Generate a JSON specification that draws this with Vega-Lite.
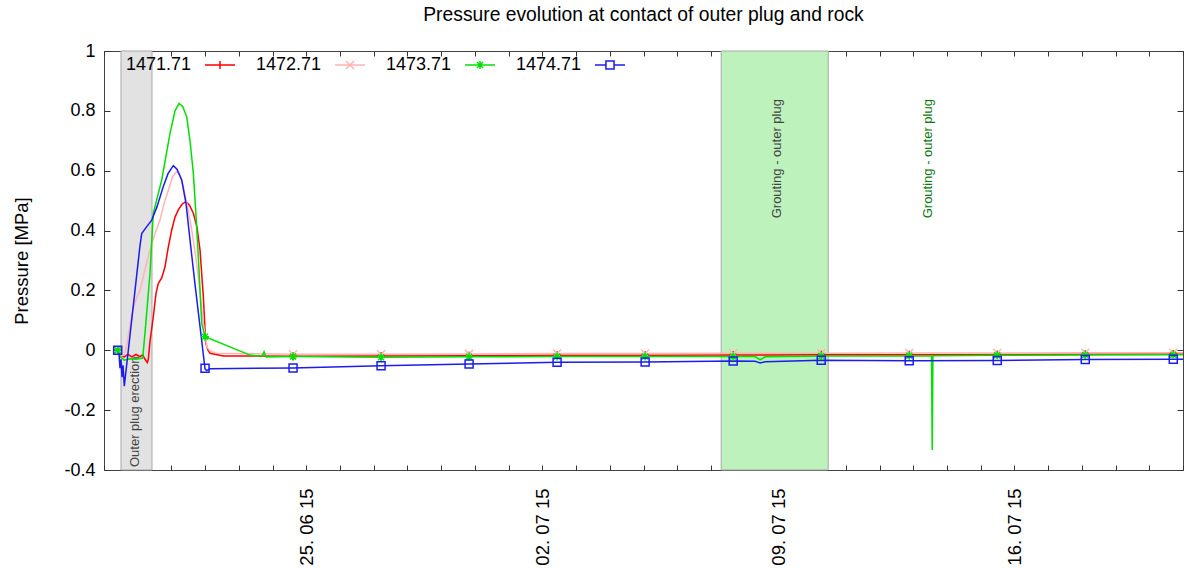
{
"$schema":"https://vega.github.io/schema/vega-lite/v6.json",
"width":1079,"height":419,
"autosize":{"type":"none"},
"padding":{"left":104,"top":51,"right":1,"bottom":99},
"background":"white",
"config":{"font":"Liberation Sans","view":{"stroke":"#444","strokeWidth":1}},
"title":{"text":"Pressure evolution at contact of outer plug and rock","font":"Liberation Sans","fontSize":19.3,"fontWeight":"normal","color":"#000","frame":"group","anchor":"middle","offset":17},
"datasets":{
"bands":[
{"kind":"erection","start":"2015-06-19T12:06Z","end":"2015-06-20T10:10Z"},
{"kind":"grouting","start":"2015-07-07T07:18Z","end":"2015-07-10T11:28Z"}
],
"notes":[
{"kind":"band","text":"Outer plug erection","time":"2015-06-19T22:04Z","pressure":-0.39},
{"kind":"band","text":"Grouting - outer plug","time":"2015-07-08T23:10Z","pressure":0.441},
{"kind":"outside","text":"Grouting - outer plug","time":"2015-07-13T10:40Z","pressure":0.441}
],
"series":[
{"sensor":"1471.71","time":"2015-06-19T09:45Z","pressure":0},
{"sensor":"1471.71","time":"2015-06-19T12:06Z","pressure":-0.018},
{"sensor":"1471.71","time":"2015-06-19T14:27Z","pressure":-0.022},
{"sensor":"1471.71","time":"2015-06-19T17:00Z","pressure":-0.014},
{"sensor":"1471.71","time":"2015-06-19T19:45Z","pressure":-0.022},
{"sensor":"1471.71","time":"2015-06-19T22:47Z","pressure":-0.014},
{"sensor":"1471.71","time":"2015-06-20T01:38Z","pressure":-0.021},
{"sensor":"1471.71","time":"2015-06-20T03:33Z","pressure":-0.015},
{"sensor":"1471.71","time":"2015-06-20T05:11Z","pressure":-0.03},
{"sensor":"1471.71","time":"2015-06-20T06:50Z","pressure":-0.041},
{"sensor":"1471.71","time":"2015-06-20T07:32Z","pressure":-0.03},
{"sensor":"1471.71","time":"2015-06-20T08:45Z","pressure":0.03},
{"sensor":"1471.71","time":"2015-06-20T11:06Z","pressure":0.112},
{"sensor":"1471.71","time":"2015-06-20T13:01Z","pressure":0.19},
{"sensor":"1471.71","time":"2015-06-20T14:40Z","pressure":0.224},
{"sensor":"1471.71","time":"2015-06-20T17:05Z","pressure":0.242},
{"sensor":"1471.71","time":"2015-06-20T19:26Z","pressure":0.279},
{"sensor":"1471.71","time":"2015-06-20T21:34Z","pressure":0.34},
{"sensor":"1471.71","time":"2015-06-21T00:12Z","pressure":0.402},
{"sensor":"1471.71","time":"2015-06-21T02:33Z","pressure":0.445},
{"sensor":"1471.71","time":"2015-06-21T04:54Z","pressure":0.469},
{"sensor":"1471.71","time":"2015-06-21T07:32Z","pressure":0.488},
{"sensor":"1471.71","time":"2015-06-21T10:23Z","pressure":0.497},
{"sensor":"1471.71","time":"2015-06-21T12:52Z","pressure":0.485},
{"sensor":"1471.71","time":"2015-06-21T15:35Z","pressure":0.458},
{"sensor":"1471.71","time":"2015-06-21T18:13Z","pressure":0.41},
{"sensor":"1471.71","time":"2015-06-21T20:21Z","pressure":0.335},
{"sensor":"1471.71","time":"2015-06-21T22:42Z","pressure":0.179},
{"sensor":"1471.71","time":"2015-06-22T00:24Z","pressure":0.023},
{"sensor":"1471.71","time":"2015-06-22T02:02Z","pressure":0},
{"sensor":"1471.71","time":"2015-06-22T03:28Z","pressure":-0.01},
{"sensor":"1471.71","time":"2015-06-22T12:56Z","pressure":-0.019},
{"sensor":"1471.71","time":"2015-06-24T14:34Z","pressure":-0.02},
{"sensor":"1471.71","time":"2015-06-27T05:13Z","pressure":-0.019},
{"sensor":"1471.71","time":"2015-06-29T19:52Z","pressure":-0.018},
{"sensor":"1471.71","time":"2015-07-02T10:30Z","pressure":-0.017},
{"sensor":"1471.71","time":"2015-07-05T01:10Z","pressure":-0.017},
{"sensor":"1471.71","time":"2015-07-07T15:50Z","pressure":-0.016},
{"sensor":"1471.71","time":"2015-07-10T06:30Z","pressure":-0.015},
{"sensor":"1471.71","time":"2015-07-12T21:08Z","pressure":-0.015},
{"sensor":"1471.71","time":"2015-07-15T11:47Z","pressure":-0.014},
{"sensor":"1471.71","time":"2015-07-18T02:26Z","pressure":-0.013},
{"sensor":"1471.71","time":"2015-07-20T17:05Z","pressure":-0.012},
{"sensor":"1471.71","time":"2015-07-21T00:00Z","pressure":-0.012},
{"sensor":"1472.71","time":"2015-06-19T09:45Z","pressure":0},
{"sensor":"1472.71","time":"2015-06-19T12:06Z","pressure":-0.02},
{"sensor":"1472.71","time":"2015-06-19T14:27Z","pressure":-0.015},
{"sensor":"1472.71","time":"2015-06-19T16:23Z","pressure":0.02},
{"sensor":"1472.71","time":"2015-06-19T19:43Z","pressure":0.12},
{"sensor":"1472.71","time":"2015-06-19T22:47Z","pressure":0.17},
{"sensor":"1472.71","time":"2015-06-20T01:38Z","pressure":0.2},
{"sensor":"1472.71","time":"2015-06-20T05:11Z","pressure":0.27},
{"sensor":"1472.71","time":"2015-06-20T08:45Z","pressure":0.335},
{"sensor":"1472.71","time":"2015-06-20T12:19Z","pressure":0.39},
{"sensor":"1472.71","time":"2015-06-20T15:52Z","pressure":0.435},
{"sensor":"1472.71","time":"2015-06-20T18:43Z","pressure":0.49},
{"sensor":"1472.71","time":"2015-06-20T21:47Z","pressure":0.535},
{"sensor":"1472.71","time":"2015-06-21T00:46Z","pressure":0.58},
{"sensor":"1472.71","time":"2015-06-21T03:46Z","pressure":0.597},
{"sensor":"1472.71","time":"2015-06-21T06:06Z","pressure":0.585},
{"sensor":"1472.71","time":"2015-06-21T08:28Z","pressure":0.547},
{"sensor":"1472.71","time":"2015-06-21T11:27Z","pressure":0.48},
{"sensor":"1472.71","time":"2015-06-21T14:26Z","pressure":0.402},
{"sensor":"1472.71","time":"2015-06-21T16:47Z","pressure":0.33},
{"sensor":"1472.71","time":"2015-06-21T19:08Z","pressure":0.246},
{"sensor":"1472.71","time":"2015-06-21T21:04Z","pressure":0.16},
{"sensor":"1472.71","time":"2015-06-21T22:42Z","pressure":0.09},
{"sensor":"1472.71","time":"2015-06-22T01:07Z","pressure":0.012},
{"sensor":"1472.71","time":"2015-06-22T03:28Z","pressure":-0.003},
{"sensor":"1472.71","time":"2015-06-22T08:14Z","pressure":-0.01},
{"sensor":"1472.71","time":"2015-06-24T14:34Z","pressure":-0.013},
{"sensor":"1472.71","time":"2015-06-27T05:13Z","pressure":-0.013},
{"sensor":"1472.71","time":"2015-06-29T19:52Z","pressure":-0.012},
{"sensor":"1472.71","time":"2015-07-02T10:30Z","pressure":-0.011},
{"sensor":"1472.71","time":"2015-07-05T01:10Z","pressure":-0.011},
{"sensor":"1472.71","time":"2015-07-07T15:50Z","pressure":-0.01},
{"sensor":"1472.71","time":"2015-07-10T06:30Z","pressure":-0.01},
{"sensor":"1472.71","time":"2015-07-12T21:08Z","pressure":-0.009},
{"sensor":"1472.71","time":"2015-07-15T11:47Z","pressure":-0.009},
{"sensor":"1472.71","time":"2015-07-18T02:26Z","pressure":-0.008},
{"sensor":"1472.71","time":"2015-07-20T17:05Z","pressure":-0.008},
{"sensor":"1472.71","time":"2015-07-21T00:00Z","pressure":-0.008},
{"sensor":"1473.71","time":"2015-06-19T09:45Z","pressure":0},
{"sensor":"1473.71","time":"2015-06-19T11:23Z","pressure":-0.02},
{"sensor":"1473.71","time":"2015-06-19T14:27Z","pressure":-0.033},
{"sensor":"1473.71","time":"2015-06-19T18:30Z","pressure":-0.028},
{"sensor":"1473.71","time":"2015-06-19T22:47Z","pressure":-0.03},
{"sensor":"1473.71","time":"2015-06-20T03:33Z","pressure":-0.026},
{"sensor":"1473.71","time":"2015-06-20T05:11Z","pressure":0.058},
{"sensor":"1473.71","time":"2015-06-20T08:45Z","pressure":0.258},
{"sensor":"1473.71","time":"2015-06-20T11:06Z","pressure":0.458},
{"sensor":"1473.71","time":"2015-06-20T17:05Z","pressure":0.569},
{"sensor":"1473.71","time":"2015-06-20T22:59Z","pressure":0.725},
{"sensor":"1473.71","time":"2015-06-21T02:33Z","pressure":0.8},
{"sensor":"1473.71","time":"2015-06-21T05:24Z","pressure":0.825},
{"sensor":"1473.71","time":"2015-06-21T08:00Z","pressure":0.815},
{"sensor":"1473.71","time":"2015-06-21T10:53Z","pressure":0.78},
{"sensor":"1473.71","time":"2015-06-21T13:13Z","pressure":0.7},
{"sensor":"1473.71","time":"2015-06-21T15:35Z","pressure":0.592},
{"sensor":"1473.71","time":"2015-06-21T17:30Z","pressure":0.45},
{"sensor":"1473.71","time":"2015-06-21T19:08Z","pressure":0.313},
{"sensor":"1473.71","time":"2015-06-21T21:33Z","pressure":0.09},
{"sensor":"1473.71","time":"2015-06-21T23:55Z","pressure":0.045},
{"sensor":"1473.71","time":"2015-06-23T07:57Z","pressure":-0.016},
{"sensor":"1473.71","time":"2015-06-23T16:30Z","pressure":-0.02},
{"sensor":"1473.71","time":"2015-06-23T17:55Z","pressure":-0.005},
{"sensor":"1473.71","time":"2015-06-23T19:20Z","pressure":-0.022},
{"sensor":"1473.71","time":"2015-06-24T14:34Z","pressure":-0.021},
{"sensor":"1473.71","time":"2015-06-27T05:13Z","pressure":-0.023},
{"sensor":"1473.71","time":"2015-06-29T19:52Z","pressure":-0.022},
{"sensor":"1473.71","time":"2015-07-02T10:30Z","pressure":-0.021},
{"sensor":"1473.71","time":"2015-07-05T01:10Z","pressure":-0.021},
{"sensor":"1473.71","time":"2015-07-07T15:50Z","pressure":-0.021},
{"sensor":"1473.71","time":"2015-07-08T07:30Z","pressure":-0.021},
{"sensor":"1473.71","time":"2015-07-08T11:00Z","pressure":-0.032},
{"sensor":"1473.71","time":"2015-07-08T14:36Z","pressure":-0.022},
{"sensor":"1473.71","time":"2015-07-10T06:30Z","pressure":-0.019},
{"sensor":"1473.71","time":"2015-07-13T13:00Z","pressure":-0.018},
{"sensor":"1473.71","time":"2015-07-13T13:30Z","pressure":-0.333},
{"sensor":"1473.71","time":"2015-07-13T14:00Z","pressure":-0.018},
{"sensor":"1473.71","time":"2015-07-15T11:47Z","pressure":-0.017},
{"sensor":"1473.71","time":"2015-07-18T02:26Z","pressure":-0.016},
{"sensor":"1473.71","time":"2015-07-20T17:05Z","pressure":-0.015},
{"sensor":"1473.71","time":"2015-07-21T00:00Z","pressure":-0.015},
{"sensor":"1474.71","time":"2015-06-19T09:45Z","pressure":0},
{"sensor":"1474.71","time":"2015-06-19T10:40Z","pressure":-0.01},
{"sensor":"1474.71","time":"2015-06-19T11:23Z","pressure":-0.06},
{"sensor":"1474.71","time":"2015-06-19T12:06Z","pressure":-0.03},
{"sensor":"1474.71","time":"2015-06-19T12:49Z","pressure":-0.09},
{"sensor":"1474.71","time":"2015-06-19T13:32Z","pressure":-0.05},
{"sensor":"1474.71","time":"2015-06-19T14:27Z","pressure":-0.12},
{"sensor":"1474.71","time":"2015-06-19T18:30Z","pressure":0.05},
{"sensor":"1474.71","time":"2015-06-19T22:47Z","pressure":0.23},
{"sensor":"1474.71","time":"2015-06-20T01:38Z","pressure":0.35},
{"sensor":"1474.71","time":"2015-06-20T02:50Z","pressure":0.39},
{"sensor":"1474.71","time":"2015-06-20T05:54Z","pressure":0.41},
{"sensor":"1474.71","time":"2015-06-20T09:58Z","pressure":0.435},
{"sensor":"1474.71","time":"2015-06-20T13:44Z","pressure":0.48},
{"sensor":"1474.71","time":"2015-06-20T18:13Z","pressure":0.547},
{"sensor":"1474.71","time":"2015-06-20T21:34Z","pressure":0.59},
{"sensor":"1474.71","time":"2015-06-21T01:20Z","pressure":0.617},
{"sensor":"1474.71","time":"2015-06-21T03:58Z","pressure":0.605},
{"sensor":"1474.71","time":"2015-06-21T07:19Z","pressure":0.569},
{"sensor":"1474.71","time":"2015-06-21T10:23Z","pressure":0.49},
{"sensor":"1474.71","time":"2015-06-21T13:13Z","pressure":0.369},
{"sensor":"1474.71","time":"2015-06-21T16:47Z","pressure":0.22},
{"sensor":"1474.71","time":"2015-06-21T20:21Z","pressure":0.079},
{"sensor":"1474.71","time":"2015-06-21T23:55Z","pressure":-0.062},
{"sensor":"1474.71","time":"2015-06-22T01:00Z","pressure":-0.068},
{"sensor":"1474.71","time":"2015-06-22T03:28Z","pressure":-0.062},
{"sensor":"1474.71","time":"2015-06-24T14:34Z","pressure":-0.059},
{"sensor":"1474.71","time":"2015-06-27T05:13Z","pressure":-0.052},
{"sensor":"1474.71","time":"2015-06-29T19:52Z","pressure":-0.046},
{"sensor":"1474.71","time":"2015-07-02T10:30Z","pressure":-0.04},
{"sensor":"1474.71","time":"2015-07-05T01:10Z","pressure":-0.039},
{"sensor":"1474.71","time":"2015-07-07T15:50Z","pressure":-0.036},
{"sensor":"1474.71","time":"2015-07-08T07:30Z","pressure":-0.037},
{"sensor":"1474.71","time":"2015-07-08T11:00Z","pressure":-0.042},
{"sensor":"1474.71","time":"2015-07-08T14:36Z","pressure":-0.038},
{"sensor":"1474.71","time":"2015-07-10T06:30Z","pressure":-0.033},
{"sensor":"1474.71","time":"2015-07-12T21:08Z","pressure":-0.035},
{"sensor":"1474.71","time":"2015-07-15T11:47Z","pressure":-0.034},
{"sensor":"1474.71","time":"2015-07-18T02:26Z","pressure":-0.031},
{"sensor":"1474.71","time":"2015-07-20T17:05Z","pressure":-0.03},
{"sensor":"1474.71","time":"2015-07-21T00:00Z","pressure":-0.03}
],
"markers":[
{"sensor":"1471.71","time":"2015-06-19T09:45Z","pressure":0},
{"sensor":"1471.71","time":"2015-06-24T14:34Z","pressure":-0.02},
{"sensor":"1471.71","time":"2015-06-27T05:13Z","pressure":-0.019},
{"sensor":"1471.71","time":"2015-06-29T19:52Z","pressure":-0.018},
{"sensor":"1471.71","time":"2015-07-02T10:30Z","pressure":-0.017},
{"sensor":"1471.71","time":"2015-07-05T01:10Z","pressure":-0.017},
{"sensor":"1471.71","time":"2015-07-07T15:50Z","pressure":-0.016},
{"sensor":"1471.71","time":"2015-07-10T06:30Z","pressure":-0.015},
{"sensor":"1471.71","time":"2015-07-12T21:08Z","pressure":-0.015},
{"sensor":"1471.71","time":"2015-07-15T11:47Z","pressure":-0.014},
{"sensor":"1471.71","time":"2015-07-18T02:26Z","pressure":-0.013},
{"sensor":"1471.71","time":"2015-07-20T17:05Z","pressure":-0.012},
{"sensor":"1472.71","time":"2015-06-19T09:45Z","pressure":0},
{"sensor":"1472.71","time":"2015-06-24T14:34Z","pressure":-0.013},
{"sensor":"1472.71","time":"2015-06-27T05:13Z","pressure":-0.013},
{"sensor":"1472.71","time":"2015-06-29T19:52Z","pressure":-0.012},
{"sensor":"1472.71","time":"2015-07-02T10:30Z","pressure":-0.011},
{"sensor":"1472.71","time":"2015-07-05T01:10Z","pressure":-0.011},
{"sensor":"1472.71","time":"2015-07-07T15:50Z","pressure":-0.01},
{"sensor":"1472.71","time":"2015-07-10T06:30Z","pressure":-0.01},
{"sensor":"1472.71","time":"2015-07-12T21:08Z","pressure":-0.009},
{"sensor":"1472.71","time":"2015-07-15T11:47Z","pressure":-0.009},
{"sensor":"1472.71","time":"2015-07-18T02:26Z","pressure":-0.008},
{"sensor":"1472.71","time":"2015-07-20T17:05Z","pressure":-0.008},
{"sensor":"1473.71","time":"2015-06-19T09:45Z","pressure":0},
{"sensor":"1473.71","time":"2015-06-21T23:55Z","pressure":0.045},
{"sensor":"1473.71","time":"2015-06-24T14:34Z","pressure":-0.021},
{"sensor":"1473.71","time":"2015-06-27T05:13Z","pressure":-0.023},
{"sensor":"1473.71","time":"2015-06-29T19:52Z","pressure":-0.022},
{"sensor":"1473.71","time":"2015-07-02T10:30Z","pressure":-0.021},
{"sensor":"1473.71","time":"2015-07-05T01:10Z","pressure":-0.021},
{"sensor":"1473.71","time":"2015-07-07T15:50Z","pressure":-0.021},
{"sensor":"1473.71","time":"2015-07-10T06:30Z","pressure":-0.019},
{"sensor":"1473.71","time":"2015-07-12T21:08Z","pressure":-0.018},
{"sensor":"1473.71","time":"2015-07-15T11:47Z","pressure":-0.017},
{"sensor":"1473.71","time":"2015-07-18T02:26Z","pressure":-0.016},
{"sensor":"1473.71","time":"2015-07-20T17:05Z","pressure":-0.015},
{"sensor":"1474.71","time":"2015-06-19T09:45Z","pressure":0},
{"sensor":"1474.71","time":"2015-06-21T23:55Z","pressure":-0.06},
{"sensor":"1474.71","time":"2015-06-24T14:34Z","pressure":-0.059},
{"sensor":"1474.71","time":"2015-06-27T05:13Z","pressure":-0.052},
{"sensor":"1474.71","time":"2015-06-29T19:52Z","pressure":-0.046},
{"sensor":"1474.71","time":"2015-07-02T10:30Z","pressure":-0.04},
{"sensor":"1474.71","time":"2015-07-05T01:10Z","pressure":-0.039},
{"sensor":"1474.71","time":"2015-07-07T15:50Z","pressure":-0.036},
{"sensor":"1474.71","time":"2015-07-10T06:30Z","pressure":-0.033},
{"sensor":"1474.71","time":"2015-07-12T21:08Z","pressure":-0.035},
{"sensor":"1474.71","time":"2015-07-15T11:47Z","pressure":-0.034},
{"sensor":"1474.71","time":"2015-07-18T02:26Z","pressure":-0.031},
{"sensor":"1474.71","time":"2015-07-20T17:05Z","pressure":-0.03}
]
},
"layer":[
{"data":{"name":"bands"},
 "mark":{"type":"rect","stroke":"#a8a8a8","strokeWidth":1},
 "encoding":{
  "x":{"field":"start","type":"temporal","scale":{"type":"utc","domain":[{"year":2015,"month":6,"date":19,"utc":true},{"year":2015,"month":7,"date":21,"utc":true}]},
       "axis":{"orient":"top","labels":false,"title":null,"domain":false,"grid":false,"ticks":true,"tickSize":-5,"tickColor":"#333","tickCount":{"interval":"day","step":1}}},
  "x2":{"field":"end"},
  "fill":{"field":"kind","type":"nominal","scale":{"domain":["erection","grouting"],"range":["#e2e2e2","#bdf2bd"]},"legend":null}
 }},
{"data":{"name":"notes"},
 "mark":{"type":"text","angle":270,"align":"left","baseline":"middle","fontSize":13,"font":"Liberation Sans"},
 "encoding":{
  "x":{"field":"time","type":"temporal","scale":{"type":"utc","domain":[{"year":2015,"month":6,"date":19,"utc":true},{"year":2015,"month":7,"date":21,"utc":true}]},"axis":null},
  "y":{"field":"pressure","type":"quantitative","scale":{"domain":[-0.4,1],"nice":false,"zero":false},
       "axis":{"orient":"right","labels":false,"title":null,"domain":false,"grid":false,"ticks":true,"tickSize":-6,"tickColor":"#333","values":[-0.4,-0.2,0,0.2,0.4,0.6,0.8,1]}},
  "text":{"field":"text"},
  "color":{"condition":{"test":"datum.kind === 'outside'","value":"#0a7a0a"},"value":"#444"}
 }},
{"data":{"name":"series"},
 "mark":{"type":"line","strokeWidth":1.5},
 "encoding":{
  "x":{"field":"time","type":"temporal","scale":{"type":"utc","domain":[{"year":2015,"month":6,"date":19,"utc":true},{"year":2015,"month":7,"date":21,"utc":true}]},
       "axis":{"orient":"bottom","title":null,"domain":false,"grid":false,"ticks":true,"tickSize":-5,"tickColor":"#333","tickCount":{"interval":"day","step":1},
               "labelExpr":"utcday(datum.value) === 4 ? utcFormat(datum.value, '%d. %m %y') : ''","labelAngle":270,"labelFontSize":18.5,"labelColor":"#000","labelFont":"Liberation Sans","labelPadding":23,"labelOverlap":false,"labelFlush":false,"labelBound":false}},
  "y":{"field":"pressure","type":"quantitative","scale":{"domain":[-0.4,1],"nice":false,"zero":false},
       "axis":{"orient":"left","title":"Pressure [MPa]","titleFont":"Liberation Sans","titleFontSize":18.5,"titleFontWeight":"normal","titleColor":"#000","titlePadding":32,
               "domain":false,"grid":false,"ticks":true,"tickSize":-6,"tickColor":"#333","values":[-0.4,-0.2,0,0.2,0.4,0.6,0.8,1],
               "labelExpr":"'' + datum.value","labelFontSize":18,"labelColor":"#000","labelFont":"Liberation Sans","labelPadding":15,"labelFlush":false,"labelOverlap":false}},
  "color":{"field":"sensor","type":"nominal","scale":{"domain":["1471.71","1472.71","1473.71","1474.71"],"range":["#ff0000","#ffb4b4","#00e000","#1c1cf0"]},"legend":null}
 }},
{"data":{"name":"markers"},
 "mark":{"type":"point","filled":false,"strokeWidth":1.5,"size":64,"opacity":1},
 "encoding":{
  "x":{"field":"time","type":"temporal","scale":{"type":"utc","domain":[{"year":2015,"month":6,"date":19,"utc":true},{"year":2015,"month":7,"date":21,"utc":true}]},"axis":null},
  "y":{"field":"pressure","type":"quantitative","scale":{"domain":[-0.4,1],"nice":false,"zero":false},"axis":null},
  "color":{"field":"sensor","type":"nominal","scale":{"domain":["1471.71","1472.71","1473.71","1474.71"],"range":["#ff0000","#ffb4b4","#00e000","#1c1cf0"]},"legend":null},
  "shape":{"field":"sensor","type":"nominal","scale":{"domain":["1471.71","1472.71","1473.71","1474.71"],"range":["M-1,0H1M0,-1V1","M-1,-1L1,1M-1,1L1,-1","M-1,0H1M0,-1V1M-0.75,-0.75L0.75,0.75M-0.75,0.75L0.75,-0.75","M-1,-1H1V1H-1Z"]},"legend":null}
 }},
{"data":{"name":"markers"},
 "transform":[{"filter":"false"}],
 "mark":{"type":"point","filled":false,"strokeWidth":1.5,"size":900,"opacity":1},
 "encoding":{
  "x":{"field":"time","type":"temporal","scale":{"type":"utc","domain":[{"year":2015,"month":6,"date":19,"utc":true},{"year":2015,"month":7,"date":21,"utc":true}]},"axis":null},
  "y":{"field":"pressure","type":"quantitative","scale":{"domain":[-0.4,1],"nice":false,"zero":false},"axis":null},
  "color":{"field":"sensor","type":"nominal","scale":{"domain":["1471.71","1472.71","1473.71","1474.71"],"range":["#ff0000","#ffb4b4","#00e000","#1c1cf0"]},
     "legend":{"orient":"none","legendX":20,"legendY":-2,"direction":"horizontal","columns":4,"title":null,"padding":0,"symbolOffset":80,"labelOffset":-110,"labelAlign":"left","labelFontSize":18,"labelFont":"Liberation Sans","labelColor":"#000","labelLimit":300,"symbolSize":900,"symbolStrokeWidth":1.5,"columnPadding":16}},
  "shape":{"field":"sensor","type":"nominal","scale":{"domain":["1471.71","1472.71","1473.71","1474.71"],"range":["M-1,0H1M0,-0.27V0.27","M-1,0H1M-0.27,-0.27L0.27,0.27M-0.27,0.27L0.27,-0.27","M-1,0H1M0,-0.27V0.27M-0.2,-0.2L0.2,0.2M-0.2,0.2L0.2,-0.2","M-1,0H-0.27M0.27,0H1M-0.27,-0.27H0.27V0.27H-0.27Z"]},
     "legend":{"orient":"none","legendX":20,"legendY":-2,"direction":"horizontal","columns":4,"title":null,"padding":0,"symbolOffset":80,"labelOffset":-110,"labelAlign":"left","labelFontSize":18,"labelFont":"Liberation Sans","labelColor":"#000","labelLimit":300,"symbolSize":900,"symbolStrokeWidth":1.5,"columnPadding":16}}
 }}
],
"resolve":{"scale":{"color":"independent","shape":"independent"},"axis":{"x":"independent","y":"independent"}}
}
